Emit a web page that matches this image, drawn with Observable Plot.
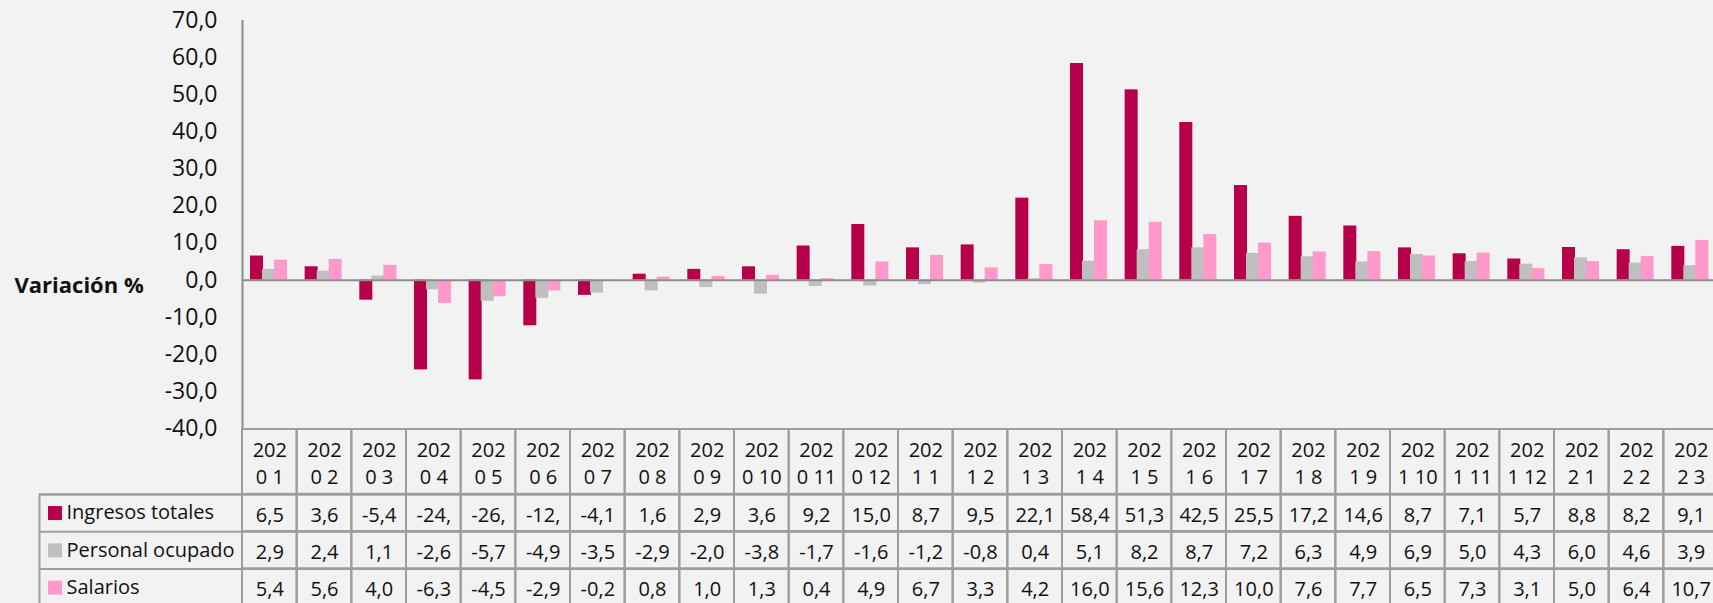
<!DOCTYPE html>
<html>
<head>
<meta charset="utf-8">
<script src="https://cdn.jsdelivr.net/npm/d3@7"></script>
<script src="https://cdn.jsdelivr.net/npm/@observablehq/plot@0.6"></script>
<style>
  html, body { margin: 0; padding: 0; background: #F2F2F2; overflow: hidden; }
  #chart { width: 1718px; }
  #chart svg { display: block; max-width: none !important; }
</style>
</head>
<body>
<div id="chart"></div>
<script>
// ---- Data ----
const categories = [
  "2020 1","2020 2","2020 3","2020 4","2020 5","2020 6","2020 7","2020 8","2020 9","2020 10","2020 11","2020 12",
  "2021 1","2021 2","2021 3","2021 4","2021 5","2021 6","2021 7","2021 8","2021 9","2021 10","2021 11","2021 12",
  "2022 1","2022 2","2022 3"
];
const seriesNames = ["Ingresos totales", "Personal ocupado", "Salarios"];
const ingresosTotales = [6.5, 3.6, -5.4, -24.2, -26.9, -12.3, -4.1, 1.6, 2.9, 3.6, 9.2, 15.0,
  8.7, 9.5, 22.1, 58.4, 51.3, 42.5, 25.5, 17.2, 14.6, 8.7, 7.1, 5.7, 8.8, 8.2, 9.1];
const personalOcupado = [2.9, 2.4, 1.1, -2.6, -5.7, -4.9, -3.5, -2.9, -2.0, -3.8, -1.7, -1.6,
  -1.2, -0.8, 0.4, 5.1, 8.2, 8.7, 7.2, 6.3, 4.9, 6.9, 5.0, 4.3, 6.0, 4.6, 3.9];
const salarios = [5.4, 5.6, 4.0, -6.3, -4.5, -2.9, -0.2, 0.8, 1.0, 1.3, 0.4, 4.9,
  6.7, 3.3, 4.2, 16.0, 15.6, 12.3, 10.0, 7.6, 7.7, 6.5, 7.3, 3.1, 5.0, 6.4, 10.7];
const yTicks = [-40, -30, -20, -10, 0, 10, 20, 30, 40, 50, 60, 70];
const yLabel = "Variación %";

// ---- Styling / layout ----
const colors = ["#B7004A", "#BFBFBF", "#FF99CC"];
const font = '"Segoe UI", "Open Sans", sans-serif';
const W = 1718, ML = 242;
const step = (W - ML) / categories.length;
const barW = step * 0.238;
const barOffsets = [step * 0.146, step * 0.146 + barW - 1, step * 0.146 + 2 * barW - 2];
const gridColor = "#9E9E9E";
const axisColor = "#8C8C8C";
const fmt = v => v.toFixed(1).replace(".", ",");
const cellText = v => { const s = fmt(v); return s.length > 4 ? s.slice(0, 4) : s; };

const allSeries = [ingresosTotales, personalOcupado, salarios];
const rows = allSeries.map((vals, i) => categories.map((c, j) => ({cat: c, series: seriesNames[i], value: vals[j]})));

// ---- Chart ----
const chart = Plot.plot({
  width: W, height: 428,
  marginLeft: ML, marginRight: 0, marginTop: 20, marginBottom: 0,
  style: {background: "#F2F2F2", fontFamily: font, fontSize: "23px", color: "#111", overflow: "visible"},
  x: {domain: categories, padding: 0, round: false, axis: null},
  y: {domain: [-40, 70], ticks: yTicks, tickFormat: fmt, tickSize: 0, tickPadding: 25, label: null},
  marks: [
    ...rows.map((data, i) => Plot.barY(data, {
      x: "cat", y: "value", fill: colors[i],
      insetLeft: barOffsets[i], insetRight: step - barOffsets[i] - barW
    })),
    Plot.ruleY([0], {stroke: axisColor, strokeWidth: 2}),
    Plot.ruleX([categories[0]], {x: d => d, dx: -step / 2, y1: -40, y2: 70, stroke: axisColor, strokeWidth: 2}),
    Plot.text([yLabel], {text: d => d, y: () => 0, frameAnchor: "left", dx: 14 - ML, dy: 6,
      textAnchor: "start", fontWeight: "bold", fontSize: 22, fill: "#111"})
  ]
});

// ---- Data table ----
const H = 1.74;              // header row height in row units
const rowPx = 37.3;
const total = H + seriesNames.length;
const tableCells = [
  ...categories.map(c => ({cat: c, y1: 0, y2: H, label: c.slice(0, 3) + "\n" + c.slice(3)})),
  ...allSeries.flatMap((vals, i) => categories.map((c, j) => ({cat: c, y1: H + i, y2: H + i + 1, label: cellText(vals[j])})))
];
const table = Plot.plot({
  width: W, height: Math.round(1 + total * rowPx),
  marginLeft: ML, marginRight: 0, marginTop: 1, marginBottom: 0,
  style: {background: "#F2F2F2", fontFamily: font, fontSize: "20px", color: "#111", overflow: "visible"},
  x: {domain: categories, padding: 0, round: false, axis: null},
  y: {domain: [0, total], range: [1, 1 + total * rowPx], axis: null},
  color: {domain: seriesNames, range: colors},
  marks: [
    Plot.frame({insetLeft: -(ML - 39), insetTop: H * rowPx, stroke: gridColor, strokeWidth: 2}),
    Plot.ruleY(d3.range(seriesNames.length).map(i => H + i), {y: d => d, insetLeft: -(ML - 39), stroke: gridColor, strokeWidth: 2}),
    Plot.barY(tableCells, {x: "cat", y1: "y1", y2: "y2", fill: "none", stroke: gridColor, strokeWidth: 2}),
    Plot.text(tableCells, {x: "cat", y: d => (d.y1 + d.y2) / 2, text: "label", fontSize: 20, lineHeight: 1.35, fill: "#111"}),
    Plot.dot(seriesNames, {y: (d, i) => H + i + 0.5, frameAnchor: "left", dx: 54.5 - ML, symbol: "square", r: 7.9, fill: d => d}),
    Plot.text(seriesNames, {y: (d, i) => H + i + 0.5, frameAnchor: "left", dx: 66 - ML, text: d => d,
      textAnchor: "start", fontSize: 20, fill: "#111"})
  ]
});

const root = document.getElementById("chart");
root.appendChild(chart);
root.appendChild(table);
</script>
</body>
</html>
